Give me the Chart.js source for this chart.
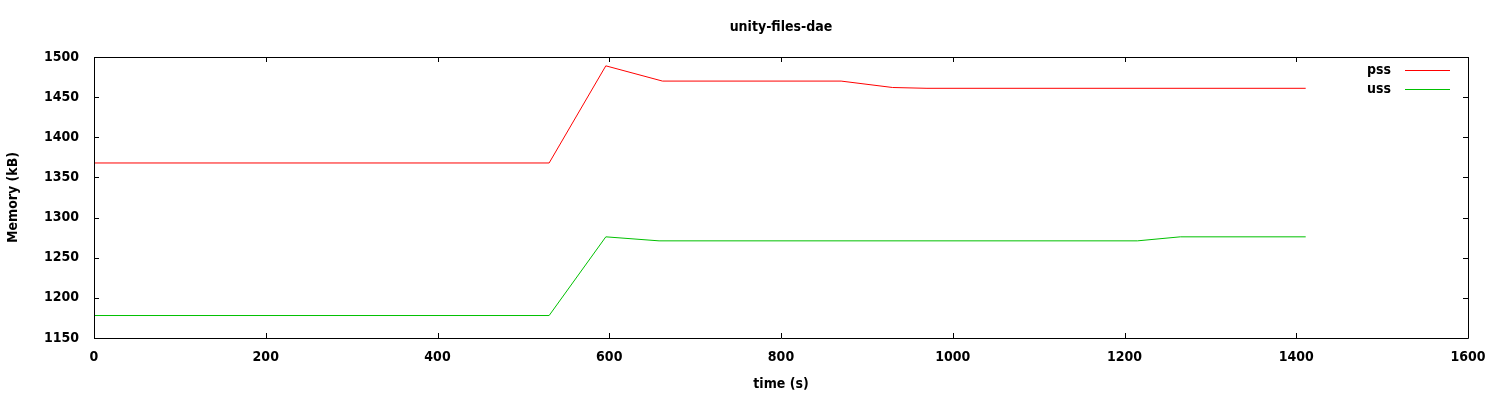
<!DOCTYPE html>
<html>
<head>
<meta charset="utf-8">
<title>unity-files-dae</title>
<script src="https://cdn.jsdelivr.net/npm/chart.js@4/dist/chart.umd.min.js"></script>
<style>
    html, body { margin: 0; padding: 0; background: #fff; }
    canvas { display: block; }
</style>
</head>
<body>
<canvas id="memChart" width="1500" height="400"></canvas>
<script>
// Data (time in seconds, memory in kB)
const chartTitle = 'unity-files-dae';
const pssTime = [0, 530, 596, 662, 870, 930, 970, 1411];
const pssValues = [1368, 1368, 1489, 1470, 1470, 1462, 1461, 1461];
const ussTime = [0, 530, 596, 658, 1215, 1265, 1411];
const ussValues = [1178, 1178, 1276, 1271, 1271, 1276, 1276];
const seriesLabels = ['pss', 'uss'];
const seriesColors = ['#ff0000', '#00c000'];

const FAMILY = "'DejaVu Sans Condensed', 'DejaVu Sans'";
const FONT = { family: FAMILY, size: 14, weight: 'bold' };
const fontStr = 'bold 14px ' + FAMILY;

// Build {x, y} points from the arrays
function toPoints(xs, ys) {
    return xs.map((x, i) => ({ x: x, y: ys[i] }));
}

// Frame, inward ticks on all four sides, title and gnuplot-like legend
const gnuplotDecor = {
    id: 'gnuplotDecor',
    afterDraw(chart) {
        const ctx = chart.ctx;
        const area = chart.chartArea;
        const xs = chart.scales.x;
        const ys = chart.scales.y;
        const len = 5;

        ctx.save();
        ctx.strokeStyle = '#000';
        ctx.lineWidth = 1;
        ctx.beginPath();
        ctx.rect(Math.round(area.left) + 0.5, Math.round(area.top) + 0.5,
                 Math.round(area.right - area.left), Math.round(area.bottom - area.top));
        xs.ticks.forEach(t => {
            const px = Math.round(xs.getPixelForValue(t.value)) + 0.5;
            ctx.moveTo(px, area.bottom);
            ctx.lineTo(px, area.bottom - len);
            ctx.moveTo(px, area.top);
            ctx.lineTo(px, area.top + len);
        });
        ys.ticks.forEach(t => {
            const py = Math.round(ys.getPixelForValue(t.value)) + 0.5;
            ctx.moveTo(area.left, py);
            ctx.lineTo(area.left + len, py);
            ctx.moveTo(area.right, py);
            ctx.lineTo(area.right - len, py);
        });
        ctx.stroke();

        // Title
        ctx.fillStyle = '#000';
        ctx.font = fontStr;
        ctx.textAlign = 'center';
        ctx.textBaseline = 'middle';
        ctx.fillText(chartTitle, (area.left + area.right) / 2, 27);

        // Legend
        chart.data.datasets.forEach((ds, i) => {
            const y = 70 + i * 19;
            ctx.textAlign = 'right';
            ctx.fillStyle = '#000';
            ctx.fillText(ds.label, area.right - 77, y);
            ctx.strokeStyle = ds.borderColor;
            ctx.beginPath();
            ctx.moveTo(area.right - 63, y + 0.5);
            ctx.lineTo(area.right - 18, y + 0.5);
            ctx.stroke();
        });
        ctx.restore();
    }
};

document.addEventListener('DOMContentLoaded', () => {
    const ctx = document.getElementById('memChart').getContext('2d');

    new Chart(ctx, {
        type: 'line',
        data: {
            datasets: [
                {
                    label: seriesLabels[0],
                    data: toPoints(pssTime, pssValues),
                    borderColor: seriesColors[0],
                    borderWidth: 1,
                    pointRadius: 0,
                    fill: false,
                    tension: 0
                },
                {
                    label: seriesLabels[1],
                    data: toPoints(ussTime, ussValues),
                    borderColor: seriesColors[1],
                    borderWidth: 1,
                    pointRadius: 0,
                    fill: false,
                    tension: 0
                }
            ]
        },
        options: {
            responsive: false,
            animation: false,
            layout: { padding: { top: 57, right: 32, left: 0, bottom: 0 } },
            plugins: {
                legend: { display: false },
                title: { display: false },
                tooltip: { enabled: false }
            },
            scales: {
                x: {
                    type: 'linear',
                    min: 0,
                    max: 1600,
                    grid: { display: false, drawTicks: false },
                    border: { display: false },
                    ticks: {
                        stepSize: 200, padding: 11, color: '#000', font: FONT, maxRotation: 0,
                        callback: value => String(value)
                    },
                    title: { display: true, text: 'time (s)', color: '#000', font: FONT, padding: { top: 0, bottom: 7 } },
                    afterFit(scale) { scale.height = 62; }
                },
                y: {
                    min: 1150,
                    max: 1500,
                    grid: { display: false, drawTicks: false },
                    border: { display: false },
                    ticks: {
                        stepSize: 50, padding: 15, color: '#000', font: FONT,
                        callback: value => String(value)
                    },
                    title: { display: true, text: 'Memory (kB)', color: '#000', font: FONT, padding: { top: 5, bottom: 0 } },
                    afterFit(scale) { scale.width = 94; }
                }
            }
        },
        plugins: [gnuplotDecor]
    });
});
</script>
</body>
</html>
